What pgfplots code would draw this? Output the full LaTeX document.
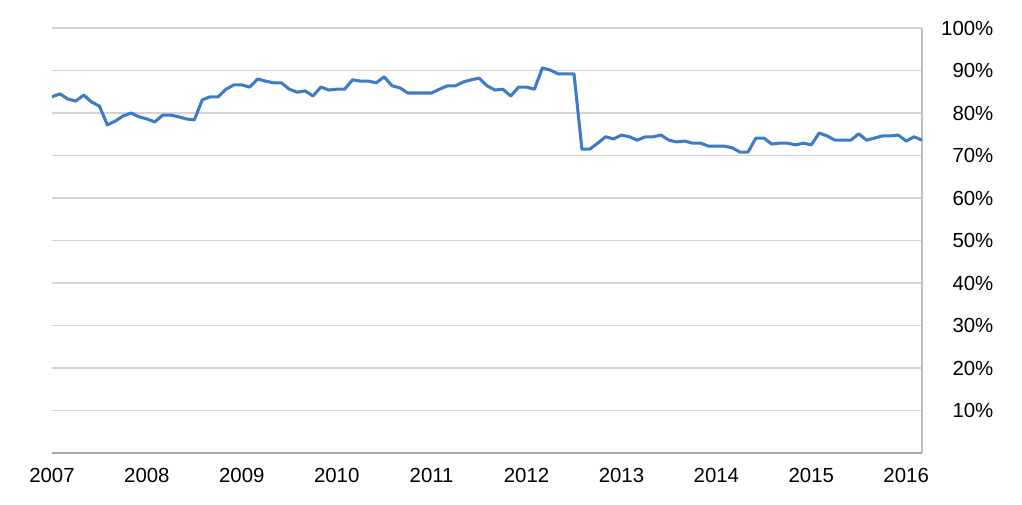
\documentclass[border=0pt]{standalone}
\usepackage{fontspec}
\setmainfont{Liberation Sans}
\usepackage{pgfplots}
\pgfplotsset{compat=1.18}
\definecolor{lineblue}{RGB}{61,124,196}
\definecolor{gridgray}{RGB}{212,212,212}
\definecolor{axisgray}{RGB}{166,166,166}
\definecolor{raxisgray}{RGB}{190,190,190}
\begin{document}
\begin{tikzpicture}
\useasboundingbox (-39pt,-39pt) rectangle (727.5pt,339.75pt);
\begin{axis}[
  at={(0,0)}, anchor=south west,
  scale only axis,
  width=652.5pt, height=318.75pt,
  xmin=0, xmax=110,
  ymin=0, ymax=100,
  axis x line*=bottom,
  axis y line*=right,
  x axis line style={-, draw=axisgray, line width=1pt},
  y axis line style={-, draw=raxisgray, line width=1pt},
  xtick={0,12,...,108},
  xticklabels={2007,2008,2009,2010,2011,2012,2013,2014,2015,2016},
  ytick={10,20,...,100},
  yticklabels={10\%,20\%,30\%,40\%,50\%,60\%,70\%,80\%,90\%,100\%},
  major tick length=0pt,
  ymajorgrids,
  grid style={draw=gridgray, line width=1.05pt},
  tick label style={font=\fontsize{15.3}{18}\selectfont, text=black},
  xticklabel style={yshift=-8pt},
  yticklabel style={anchor=west, text width=42pt, align=right, xshift=8pt},
]
\addplot[lineblue, line width=2.3pt, line join=round] coordinates {
(0,83.8)(1,84.5)(2,83.3)(3,82.8)(4,84.2)(5,82.6)(6,81.6)(7,77.2)(8,78.1)(9,79.3)(10,80.0)(11,79.1)
(12,78.6)(13,77.9)(14,79.5)(15,79.5)(16,79.1)(17,78.6)(18,78.4)(19,83.1)(20,83.8)(21,83.8)(22,85.6)(23,86.6)
(24,86.6)(25,86.1)(26,88.0)(27,87.5)(28,87.1)(29,87.1)(30,85.6)(31,84.9)(32,85.2)(33,84.0)(34,86.1)(35,85.4)
(36,85.6)(37,85.6)(38,87.8)(39,87.5)(40,87.5)(41,87.1)(42,88.5)(43,86.4)(44,85.9)(45,84.7)(46,84.7)(47,84.7)
(48,84.7)(49,85.6)(50,86.4)(51,86.4)(52,87.3)(53,87.8)(54,88.2)(55,86.4)(56,85.4)(57,85.6)(58,84.0)(59,86.1)
(60,86.1)(61,85.6)(62,90.6)(63,90.1)(64,89.2)(65,89.2)(66,89.2)(67,71.5)(68,71.5)(69,72.9)(70,74.4)(71,73.9)
(72,74.8)(73,74.4)(74,73.6)(75,74.4)(76,74.4)(77,74.8)(78,73.6)(79,73.2)(80,73.4)(81,72.9)(82,72.9)(83,72.2)
(84,72.2)(85,72.2)(86,71.8)(87,70.8)(88,70.8)(89,74.1)(90,74.1)(91,72.7)(92,72.9)(93,72.9)(94,72.5)(95,72.9)
(96,72.5)(97,75.3)(98,74.6)(99,73.6)(100,73.6)(101,73.6)(102,75.1)(103,73.6)(104,74.1)(105,74.6)(106,74.6)(107,74.8)
(108,73.4)(109,74.4)(110,73.6)
};
\end{axis}
\end{tikzpicture}
\end{document}
